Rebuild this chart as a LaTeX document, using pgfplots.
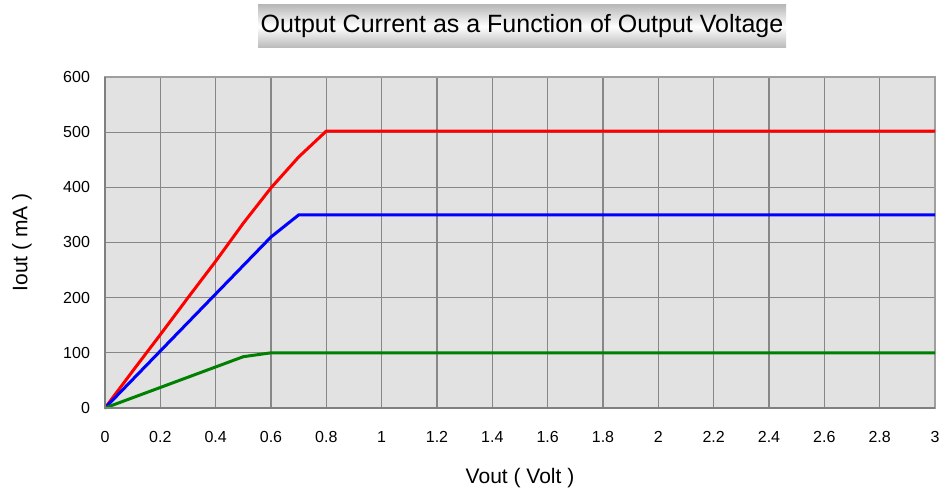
\documentclass[border=0pt]{standalone}
\usepackage{pgfplots}
\pgfplotsset{compat=1.18}
\usepackage{fontspec}
\setmainfont{Liberation Sans}
\definecolor{plotbg}{RGB}{226,226,226}
\definecolor{gridc}{RGB}{135,135,135}
\definecolor{dgreen}{RGB}{0,128,0}
\begin{document}
\begin{tikzpicture}
\useasboundingbox (-52.5pt,-41pt) rectangle (418.5pt,204pt);
\begin{axis}[
  scale only axis, width=415pt, height=165.5pt,
  xmin=0, xmax=3, ymin=0, ymax=600,
  xtick={0,0.2,0.4,0.6,0.8,1,1.2,1.4,1.6,1.8,2,2.2,2.4,2.6,2.8,3},
  xticklabels={0,0.2,0.4,0.6,0.8,1,1.2,1.4,1.6,1.8,2,2.2,2.4,2.6,2.8,3},
  ytick={0,100,200,300,400,500,600},
  yticklabels={0,100,200,300,400,500,600},
  grid=major, grid style={gridc, line width=0.55pt},
  axis background/.style={fill=plotbg},
  axis line style={gray!75, line width=0.8pt},
  tick style={draw=none},
  xticklabel style={font=\fontsize{8}{9}\selectfont, yshift=-8pt},
  yticklabel style={font=\fontsize{8}{9}\selectfont, xshift=-4pt},
  xlabel={Vout ( Volt )}, ylabel={Iout ( mA )},
  xlabel style={font=\fontsize{10.5}{12}\selectfont, at={(axis description cs:0.5,-0.2115)}, anchor=center},
  ylabel style={font=\fontsize{10.5}{12}\selectfont, at={(axis description cs:-0.1,0.5)}, anchor=center},
  clip=false,
  every axis plot/.append style={line width=1.5pt, no markers},
]
\addplot[red] coordinates {(0,0) (0.1,67) (0.2,133) (0.3,200) (0.4,266) (0.5,335) (0.6,399) (0.7,455) (0.8,502) (3,502)};
\addplot[blue] coordinates {(0,0) (0.6,310) (0.7,350) (3,350)};
\addplot[dgreen] coordinates {(0,0) (0.5,93) (0.6,100) (3,100)};
\draw[gray, line width=1pt] (rel axis cs:0,1) -- (rel axis cs:0,0) -- (rel axis cs:1,0);
\end{axis}
\node[minimum width=264pt, minimum height=21.5pt, inner sep=0pt, top color=gray!55, bottom color=gray!55, middle color=white, font=\fontsize{12.5}{14}\selectfont] at (208.5pt,190.75pt) {Output Current as a Function of Output Voltage};
\end{tikzpicture}
\end{document}
